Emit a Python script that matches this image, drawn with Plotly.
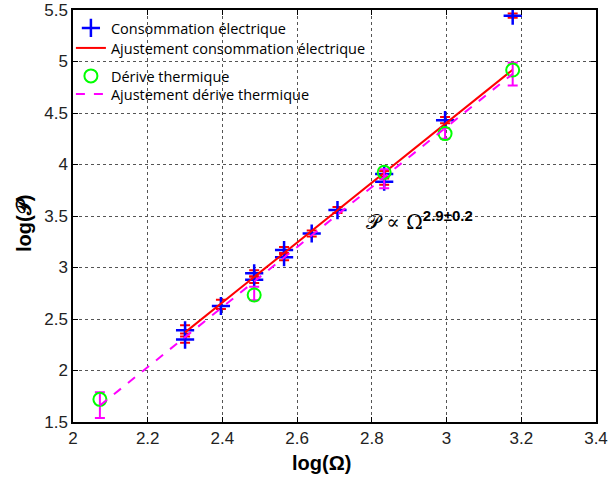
import plotly.graph_objects as go

# Electrical consumption data (log Omega, log P)
elec_x = [2.30, 2.30, 2.396, 2.485, 2.485, 2.565, 2.565, 2.639, 2.708, 2.833, 2.833, 2.996, 3.177]
elec_y = [2.39, 2.30, 2.626, 2.944, 2.88, 3.17, 3.10, 3.33, 3.558, 3.908, 3.833, 4.43, 5.445]
elec_err_plus = [0.05, 0.03, 0.06, 0.03, 0.03, 0.03, 0.03, 0.03, 0.03, 0.03, 0.03, 0.03, 0.02]
elec_err_minus = [0.03, 0.03, 0.03, 0.03, 0.03, 0.03, 0.03, 0.03, 0.03, 0.03, 0.03, 0.03, 0.02]

# Thermal drift data
therm_x = [2.072, 2.485, 2.833, 2.996, 3.177]
therm_y = [1.72, 2.733, 3.925, 4.30, 4.917]
therm_err_plus = [0.07, 0.08, 0.03, 0.055, 0.07]
therm_err_minus = [0.18, 0.05, 0.155, 0.05, 0.15]

# Fit line endpoints
fit_elec_x = [2.30, 3.177]
fit_elec_y = [2.37, 4.92]
fit_therm_x = [2.072, 3.177]
fit_therm_y = [1.66, 4.88]

x_ticks = [2, 2.2, 2.4, 2.6, 2.8, 3, 3.2, 3.4]
x_ticklabels = ["2", "2.2", "2.4", "2.6", "2.8", "3", "3.2", "3.4"]
y_ticks = [1.5, 2, 2.5, 3, 3.5, 4, 4.5, 5, 5.5]
y_ticklabels = ["1.5", "2", "2.5", "3", "3.5", "4", "4.5", "5", "5.5"]

FONT = "Liberation Sans, Arial, sans-serif"

fig = go.Figure()

fig.add_trace(go.Scatter(
    x=elec_x, y=elec_y, mode="markers", name="Consommation électrique",
    legend="legend",
    marker=dict(symbol="cross-thin", size=13, line=dict(color="#0000ff", width=2.5), color="#0000ff"),
    error_y=dict(type="data", array=elec_err_plus, arrayminus=elec_err_minus,
                 color="#ff0000", thickness=2, width=5),
))
fig.add_trace(go.Scatter(
    x=fit_elec_x, y=fit_elec_y, mode="lines", name="Ajustement consommation électrique",
    legend="legend2",
    line=dict(color="#ff0000", width=2),
))
fig.add_trace(go.Scatter(
    x=therm_x, y=therm_y, mode="markers", name="Dérive thermique",
    legend="legend3",
    marker=dict(symbol="circle-open", size=13, line=dict(color="#00ff00", width=2), color="#00ff00"),
    error_y=dict(type="data", array=therm_err_plus, arrayminus=therm_err_minus,
                 color="#ff00ff", thickness=2, width=5),
))
fig.add_trace(go.Scatter(
    x=fit_therm_x, y=fit_therm_y, mode="lines", name="Ajustement dérive thermique",
    legend="legend4",
    line=dict(color="#ff00ff", width=2, dash="dash"),
))

axis_common = dict(
    showline=True, linecolor="black", linewidth=1.5, mirror="ticks",
    ticks="inside", ticklen=5, tickcolor="black",
    showgrid=True, gridcolor="#555555", griddash="dot", gridwidth=1,
    zeroline=False, automargin=False,
    tickfont=dict(family=FONT, size=17, color="#222222"),
)


def leg(ypos):
    return dict(x=-0.004, y=ypos, xanchor="left", yanchor="top",
                bgcolor="rgba(255,255,255,0)", borderwidth=0,
                font=dict(family="Open Sans, sans-serif", size=14.5, color="black"))


fig.update_layout(
    width=610, height=479,
    margin=dict(l=73, r=14, t=10, b=57),
    paper_bgcolor="white", plot_bgcolor="white",
    showlegend=True,
    legend=leg(0.9952),
    legend2=leg(0.9466),
    legend3=leg(0.8787),
    legend4=leg(0.835),
    xaxis=dict(range=[2, 3.4], tickvals=x_ticks, ticktext=x_ticklabels, **axis_common),
    yaxis=dict(range=[1.5, 5.5], tickvals=y_ticks, ticktext=y_ticklabels, **axis_common),
    annotations=[
        dict(
            x=2.78, y=3.46, xref="x", yref="y", xanchor="left", yanchor="middle",
            showarrow=False,
            text=("<span style='font-family:DejaVu Serif, serif; font-size:20px'>𝒫 ∝ Ω</span>"
                  "<sup><span style='font-size:15px'><b>2.9±0.2</b></span></sup>"),
            font=dict(family=FONT, size=20, color="black"),
        ),
        dict(
            x=0.476, y=-0.0995, xref="paper", yref="paper", xanchor="center", yanchor="middle",
            showarrow=False, text="<b>log(Ω)</b>",
            font=dict(family=FONT, size=20, color="black"),
        ),
        dict(
            x=-0.0937, y=0.483, xref="paper", yref="paper", xanchor="center", yanchor="middle",
            showarrow=False, text="<b>log(𝒫)</b>", textangle=-90,
            font=dict(family=FONT, size=20, color="black"),
        ),
    ],
)

fig.write_html("out.html", config={"displayModeBar": False},
               post_script="document.body.style.margin='0';")
